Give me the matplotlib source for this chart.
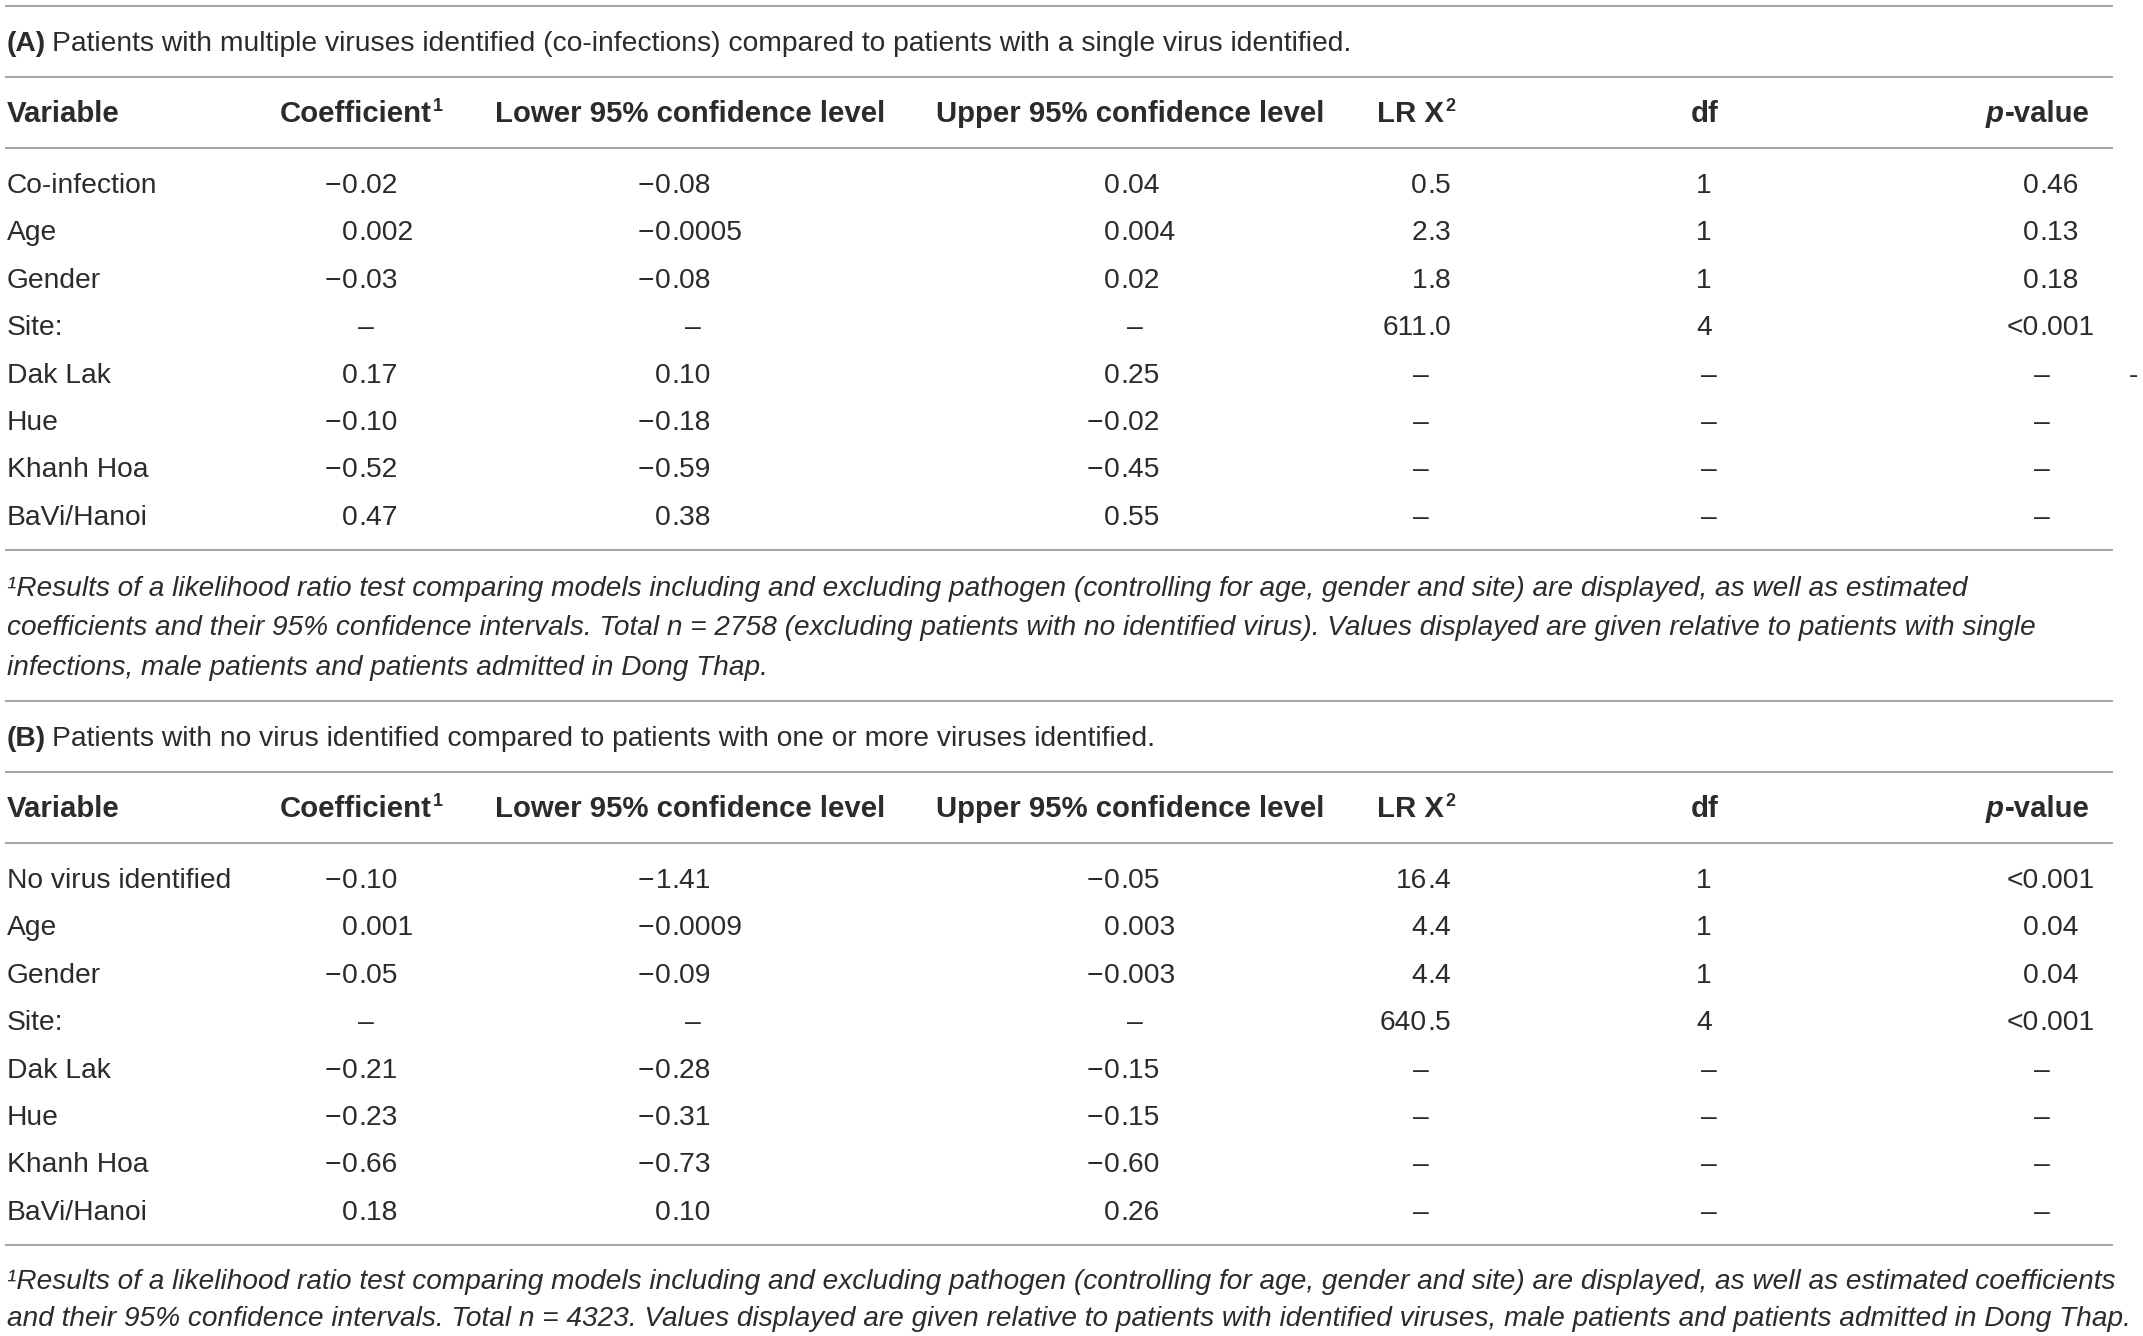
"""Two regression tables (A: co-infection, B: no virus identified) drawn as text."""
import matplotlib
matplotlib.use("Agg")
import matplotlib.pyplot as plt  # noqa: E402

W, H = 2143, 1336
INK, RULE = "#2b2b2b", "#8c8c8c"
FONT = ["Liberation Sans", "DejaVu Sans"]
FS, FS_BOLD, FS_NOTE, FS_SUP = 20.3, 21.2, 20.2, 13

HEADERS = ["Variable", "Coefficient", "Lower 95% confidence level",
           "Upper 95% confidence level", "LR X", "df", "-value"]
HEADER_SUP = ["", "1", "", "", "2", "", ""]

CAPTION_A = "Patients with multiple viruses identified (co-infections) compared to patients with a single virus identified."
CAPTION_B = "Patients with no virus identified compared to patients with one or more viruses identified."

VARS_A = ["Co-infection", "Age", "Gender", "Site:", "Dak Lak", "Hue", "Khanh Hoa", "BaVi/Hanoi"]
COEF_A = ["\u22120.02", "0.002", "\u22120.03", "\u2013", "0.17", "\u22120.10", "\u22120.52", "0.47"]
LOWER_A = ["\u22120.08", "\u22120.0005", "\u22120.08", "\u2013", "0.10", "\u22120.18", "\u22120.59", "0.38"]
UPPER_A = ["0.04", "0.004", "0.02", "\u2013", "0.25", "\u22120.02", "\u22120.45", "0.55"]
LR_A = ["0.5", "2.3", "1.8", "611.0", "\u2013", "\u2013", "\u2013", "\u2013"]
DF_A = ["1", "1", "1", "4", "\u2013", "\u2013", "\u2013", "\u2013"]
P_A = ["0.46", "0.13", "0.18", "<0.001", "\u2013", "\u2013", "\u2013", "\u2013"]

VARS_B = ["No virus identified", "Age", "Gender", "Site:", "Dak Lak", "Hue", "Khanh Hoa", "BaVi/Hanoi"]
COEF_B = ["\u22120.10", "0.001", "\u22120.05", "\u2013", "\u22120.21", "\u22120.23", "\u22120.66", "0.18"]
LOWER_B = ["\u22121.41", "\u22120.0009", "\u22120.09", "\u2013", "\u22120.28", "\u22120.31", "\u22120.73", "0.10"]
UPPER_B = ["\u22120.05", "0.003", "\u22120.003", "\u2013", "\u22120.15", "\u22120.15", "\u22120.60", "0.26"]
LR_B = ["16.4", "4.4", "4.4", "640.5", "\u2013", "\u2013", "\u2013", "\u2013"]
DF_B = ["1", "1", "1", "4", "\u2013", "\u2013", "\u2013", "\u2013"]
P_B = ["<0.001", "0.04", "0.04", "<0.001", "\u2013", "\u2013", "\u2013", "\u2013"]

NOTE_A = ["\u00b9Results of a likelihood ratio test comparing models including and excluding pathogen (controlling for age, gender and site) are displayed, as well as estimated",
          "coefficients and their 95% confidence intervals. Total n = 2758 (excluding patients with no identified virus). Values displayed are given relative to patients with single",
          "infections, male patients and patients admitted in Dong Thap."]
NOTE_B = ["\u00b9Results of a likelihood ratio test comparing models including and excluding pathogen (controlling for age, gender and site) are displayed, as well as estimated coefficients",
          "and their 95% confidence intervals. Total n = 4323. Values displayed are given relative to patients with identified viruses, male patients and patients admitted in Dong Thap."]

# layout (pixels): header lefts, decimal anchors, dash centres
HEAD_X = [7, 280, 495, 936, 1377, 1705, 2090]
DEC_X = [None, 358, 671, 1120, 1427, None, 2039]
DASH_X = [None, 366, 693, 1135, 1421, 1709, 2042]
DF_X = 1704
ROW_H = 47.4
CAP = 10  # half cap height -> baseline offset
MINUS_GAP = 1.5


def body(ax, x, y, s, ha="left", **kw):
    kw.setdefault("fontsize", FS)
    return ax.text(x, y + CAP, s, ha=ha, va="baseline",
                   family=FONT, color=INK, **kw)


def bold(ax, x, y, s, ha="left", **kw):
    kw.setdefault("fontsize", FS_BOLD)
    return ax.text(x, y + CAP, s, ha=ha, va="baseline",
                   family=FONT, fontweight="bold", color=INK, **kw)


def edges(ax, t):
    bb = t.get_window_extent(ax.figure.canvas.get_renderer())
    inv = ax.transData.inverted()
    return inv.transform((bb.x0, bb.y0))[0], inv.transform((bb.x1, bb.y0))[0]


def rule(ax, y):
    ax.plot([5, 2113], [y, y], color=RULE, lw=1.1, solid_capstyle="butt")


def num(ax, col, y, s):
    if s == "\u2013":
        body(ax, DASH_X[col], y, s, ha="center")
        return
    if col == 5:
        body(ax, DF_X, y, s, ha="center")
        return
    neg = s.startswith("\u2212")
    s = s.lstrip("\u2212")
    i = s.index(".")
    t = body(ax, DEC_X[col], y, s[:i], ha="right")
    body(ax, DEC_X[col], y, s[i:], ha="left")
    if neg:
        body(ax, edges(ax, t)[0] - MINUS_GAP, y, "\u2212", ha="right")


def section(ax, label, caption, top, cols, vars_, notes, note_y):
    # top: y of rule above caption
    rule(ax, top)
    cy = top + 35
    t = bold(ax, 7, cy, label, fontsize=FS)
    body(ax, edges(ax, t)[1] + 6, cy, caption)
    rule(ax, top + 71)
    hy = top + 106
    for k, h in enumerate(HEADERS):
        if k == 5:
            bold(ax, HEAD_X[k], hy, h, ha="center")
        elif k == 6:
            t = bold(ax, HEAD_X[k], hy, h, ha="right")
            bold(ax, edges(ax, t)[0] - 1, hy, "p", ha="right", style="italic")
        else:
            t = bold(ax, HEAD_X[k], hy, h)
            if HEADER_SUP[k]:
                bold(ax, edges(ax, t)[1] + 1, hy - 11, HEADER_SUP[k], fontsize=FS_SUP)
    rule(ax, top + 142)
    r0 = top + 177
    for i, v in enumerate(vars_):
        y = r0 + i * ROW_H
        body(ax, 7, y, v)
        for c, colvals in enumerate(cols, start=1):
            num(ax, c, y, colvals[i])
    rule(ax, r0 + 7 * ROW_H + 35)
    for j, line in enumerate(notes):
        body(ax, 7, note_y[j], line, style="italic", fontsize=FS_NOTE)


def main():
    fig = plt.figure(figsize=(W / 100, H / 100), dpi=100)
    ax = fig.add_axes([0, 0, 1, 1])
    ax.set_xlim(0, W)
    ax.set_ylim(H, 0)
    ax.axis("off")
    fig.canvas.draw()

    section(ax, "(A)", CAPTION_A, 6,
            [COEF_A, LOWER_A, UPPER_A, LR_A, DF_A, P_A], VARS_A, NOTE_A, [586, 625, 665])
    section(ax, "(B)", CAPTION_B, 701,
            [COEF_B, LOWER_B, UPPER_B, LR_B, DF_B, P_B], VARS_B, NOTE_B, [1279, 1316])
    # stray hyphen at the right margin of the Dak Lak row in (A)
    body(ax, 2133, 373, "-", ha="center")

    fig.savefig("out.png", facecolor="white")


if __name__ == "__main__":
    main()
